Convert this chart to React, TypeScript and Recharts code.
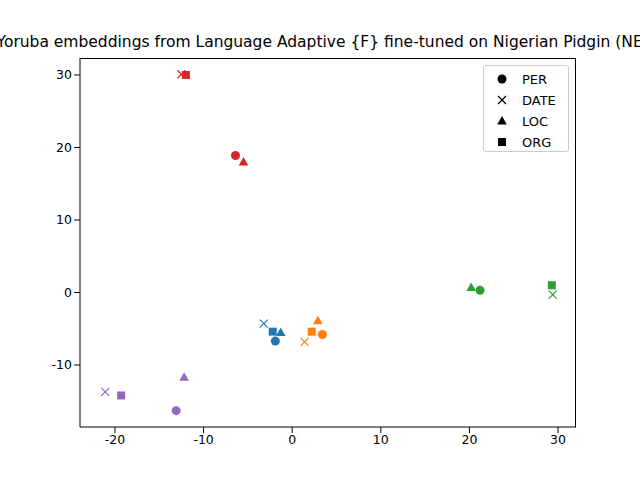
import React from "react";
import { ScatterChart, Scatter, XAxis, YAxis } from "recharts";

const colors = ["#d62728", "#1f77b4", "#ff7f0e", "#2ca02c", "#9467bd"];
const markers = ["PER", "DATE", "LOC", "ORG"];
// [x, y] per group, in order PER, DATE, LOC, ORG
const redPts = [[-6.4, 18.9], [-12.5, 30.1], [-5.5, 18.0], [-12.0, 30.0]];
const bluePts = [[-1.9, -6.7], [-3.2, -4.3], [-1.3, -5.5], [-2.2, -5.4]];
const orangePts = [[3.4, -5.8], [1.4, -6.8], [2.9, -3.9], [2.2, -5.4]];
const greenPts = [[21.2, 0.3], [29.4, -0.3], [20.2, 0.7], [29.3, 1.0]];
const purplePts = [[-13.1, -16.3], [-21.1, -13.7], [-12.2, -11.7], [-19.3, -14.2]];
const groups = [redPts, bluePts, orangePts, greenPts, purplePts];
const xTicks = [-20, -10, 0, 10, 20, 30];
const yTicks = [-10, 0, 10, 20, 30];

const font = "DejaVu Sans, sans-serif";

function Marker({ cx, cy, m, color }: { cx: number; cy: number; m: string; color: string }) {
  if (m === "PER") return <circle cx={cx} cy={cy} r={4.5} fill={color} />;
  if (m === "DATE")
    return (
      <g stroke={color} strokeWidth={1.2}>
        <line x1={cx - 4} y1={cy - 4} x2={cx + 4} y2={cy + 4} />
        <line x1={cx - 4} y1={cy + 4} x2={cx + 4} y2={cy - 4} />
      </g>
    );
  if (m === "LOC")
    return <polygon points={`${cx},${cy - 5} ${cx - 4.8},${cy + 3.5} ${cx + 4.8},${cy + 3.5}`} fill={color} />;
  return <rect x={cx - 4} y={cy - 4} width={8} height={8} fill={color} />;
}

export default function App() {
  const tick = { fontSize: 12.5, fill: "#000", fontFamily: font };
  return (
    <div style={{ position: "absolute", left: 0, top: 0, width: 640, height: 480, background: "#fff", overflow: "hidden" }}>
      <div style={{ position: "absolute", top: 33, left: 328, transform: "translateX(-50%)", whiteSpace: "nowrap", fontFamily: font, fontSize: 15.5 }}>
        Yoruba embeddings from Language Adaptive {"{F}"} fine-tuned on Nigerian Pidgin (NER)
      </div>
      <ScatterChart width={640} height={480} margin={{ top: 58, right: 64, bottom: 23, left: 30 }}>
        <XAxis type="number" dataKey="x" domain={[-23.95, 32.03]} ticks={xTicks} tick={tick} stroke="#000" height={30} allowDataOverflow />
        <YAxis type="number" dataKey="y" domain={[-18.55, 32.34]} ticks={yTicks} tick={tick} stroke="#000" width={50} allowDataOverflow />
        {groups.map((g, gi) => (
          <Scatter
            key={gi}
            isAnimationActive={false}
            data={g.map(([x, y], i) => ({ x, y, m: markers[i] }))}
            shape={(p: any) => <Marker cx={p.cx} cy={p.cy} m={p.payload.m} color={colors[gi]} />}
          />
        ))}
      </ScatterChart>
      <div style={{ position: "absolute", left: 80, top: 58, width: 496, height: 369, borderTop: "1px solid #000", borderRight: "1px solid #000", boxSizing: "border-box", pointerEvents: "none" }} />
      <div style={{ position: "absolute", left: 483, top: 65, width: 84, height: 85, border: "1px solid #ccc", borderRadius: 3, background: "#fff", fontFamily: font, fontSize: 13 }}>
        {markers.map((m, i) => (
          <div key={m} style={{ position: "absolute", left: 8, top: 3 + i * 21, height: 20, display: "flex", alignItems: "center" }}>
            <svg width={20} height={14}><Marker cx={10} cy={7} m={m} color="#000" /></svg>
            <span style={{ marginLeft: 10 }}>{m}</span>
          </div>
        ))}
      </div>
    </div>
  );
}
